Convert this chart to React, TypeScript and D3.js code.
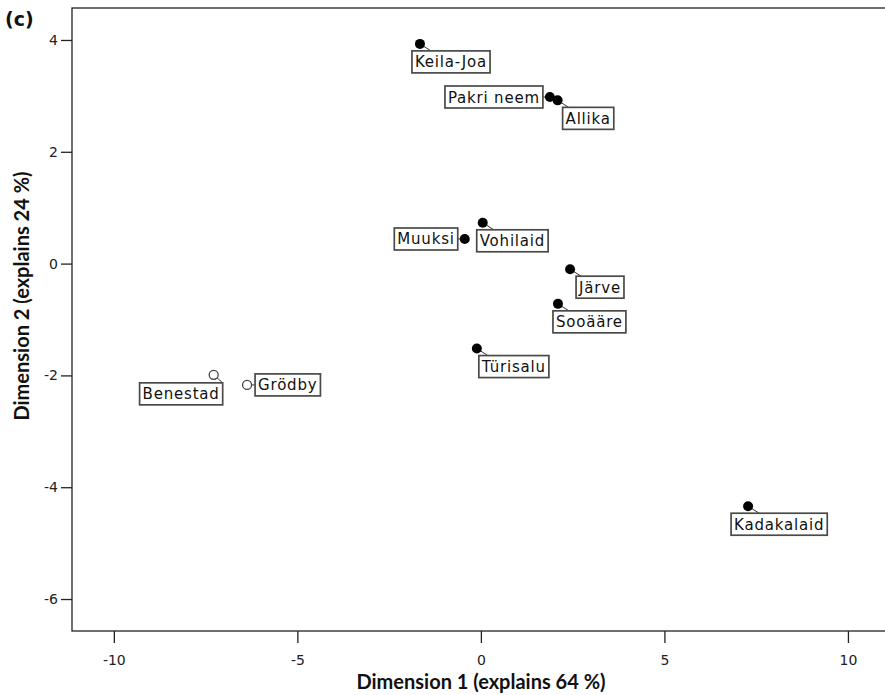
import React, { useRef, useEffect } from 'react';
import * as d3 from 'd3';

// MDS ordination of sites (panel c)
const sites = ['Keila-Joa', 'Pakri neem', 'Allika', 'Vohilaid', 'Muuksi', 'Järve', 'Sooääre', 'Türisalu', 'Benestad', 'Grödby', 'Kadakalaid'];
const dim1 = [-1.66, 1.88, 2.09, 0.05, -0.44, 2.43, 2.1, -0.11, -7.28, -6.37, 7.28];
const dim2 = [3.93, 2.98, 2.92, 0.73, 0.44, -0.1, -0.72, -1.52, -1.99, -2.17, -4.34];
const region = ['EE', 'EE', 'EE', 'EE', 'EE', 'EE', 'EE', 'EE', 'FI', 'FI', 'EE'];

const xTicks = [-10, -5, 0, 5, 10];
const yTicks = [-6, -4, -2, 0, 2, 4];

// label layout (where the box sits relative to its point)
const labelPlace = ['below', 'left', 'below', 'below', 'left', 'below', 'below', 'below', 'belowLeft', 'right', 'below'];
const labelShift = [-8, 0, 5, -6, 0, 6, -5, 2, 9, 0, -17];

const width = 885;
const height = 695;

const App = () => {
  const svgRef = useRef<SVGSVGElement>(null);

  useEffect(() => {
    const svg = d3.select(svgRef.current).html('');
    const left = 72, right = 885, top = 8, bottom = 631;

    const x = d3.scaleLinear().domain([-11.14, 11.01]).range([left, right]);
    const y = d3.scaleLinear().domain([-6.572, 4.572]).range([bottom, top]);

    // --- frame ---
    svg.append('rect')
      .attr('x', left).attr('y', top)
      .attr('width', right - left + 10).attr('height', bottom - top)
      .attr('fill', 'none').attr('stroke', '#222').attr('stroke-width', 1.3);

    // --- axes --- (plain hyphen for negatives, like the original)
    const fmt = (d: any) => String(d);

    const xAxis = svg.append('g').attr('transform', `translate(0,${bottom})`)
      .call(d3.axisBottom(x).tickValues(xTicks).tickSize(12).tickSizeOuter(0).tickFormat(fmt));
    xAxis.select('.domain').remove();
    xAxis.selectAll('line').attr('stroke', '#222').attr('stroke-width', 1.3);
    xAxis.selectAll('text')
      .attr('dy', 0).attr('y', 34)
      .style('font-family', 'DejaVu Sans').style('font-size', '14px').attr('fill', '#222');

    const yAxis = svg.append('g').attr('transform', `translate(${left},0)`)
      .call(d3.axisLeft(y).tickValues(yTicks).tickSize(11).tickSizeOuter(0).tickFormat(fmt));
    yAxis.select('.domain').remove();
    yAxis.selectAll('line').attr('stroke', '#222').attr('stroke-width', 1.3);
    yAxis.selectAll('text')
      .attr('x', -14)
      .style('font-family', 'DejaVu Sans').style('font-size', '14px').attr('fill', '#222');

    // --- titles ---
    svg.append('text')
      .attr('x', 481).attr('y', 689)
      .attr('text-anchor', 'middle')
      .style('font-family', 'Lato').style('font-weight', 'bold').style('font-size', '20px')
      .attr('fill', '#111')
      .text('Dimension 1 (explains 64 %)');

    svg.append('text')
      .attr('transform', 'translate(29,296) rotate(-90)')
      .attr('text-anchor', 'middle')
      .style('font-family', 'Lato').style('font-weight', 'bold').style('font-size', '20px')
      .attr('fill', '#111')
      .text('Dimension 2 (explains 24 %)');

    svg.append('text')
      .attr('x', 5).attr('y', 26)
      .style('font-family', 'DejaVu Sans').style('font-weight', 'bold').style('font-size', '19px')
      .attr('fill', '#111')
      .text('(c)');

    // --- labels ---
    const gLines = svg.append('g');
    const gLabels = svg.append('g');
    const gDots = svg.append('g');

    sites.forEach((name, i) => {
      const px = x(dim1[i]);
      const py = y(dim2[i]);

      const lab = gLabels.append('g');
      const box = lab.append('rect');
      const txt = lab.append('text')
        .style('font-family', 'DejaVu Sans').style('font-size', '15px')
        .style('letter-spacing', '0.8px')
        .attr('fill', '#111')
        .text(name);
      const tw = (txt.node() as SVGTextElement).getComputedTextLength();
      const bw = tw + 6;
      const bh = 22;

      let bx = 0, by = 0, ax = 0, ay = 0;
      const place = labelPlace[i];
      if (place === 'below') {
        bx = px + labelShift[i];
        by = py + 7;
        ax = Math.max(bx + 2, Math.min(px + 11, bx + bw - 2));
        ay = by;
      } else if (place === 'belowLeft') {
        bx = px + labelShift[i] - bw;
        by = py + 8;
        ax = bx + bw;
        ay = by;
      } else if (place === 'left') {
        bx = px - 7 - bw;
        by = py - bh / 2;
        ax = bx + bw;
        ay = py;
      } else {
        bx = px + 8;
        by = py - bh / 2;
        ax = bx;
        ay = py;
      }

      box.attr('x', bx).attr('y', by).attr('width', bw).attr('height', bh)
        .attr('fill', 'white').attr('stroke', '#4a4a4a').attr('stroke-width', 1.7);
      txt.attr('x', bx + 3).attr('y', by + 16.5);

      gLines.append('line')
        .attr('x1', px).attr('y1', py).attr('x2', ax).attr('y2', ay)
        .attr('stroke', '#333').attr('stroke-width', 1);

      if (region[i] === 'EE') {
        gDots.append('circle').attr('cx', px).attr('cy', py).attr('r', 5).attr('fill', '#000');
      } else {
        gDots.append('circle').attr('cx', px).attr('cy', py).attr('r', 4.5)
          .attr('fill', 'white').attr('stroke', '#444').attr('stroke-width', 1.3);
      }
    });
  }, []);

  return (
    <svg
      ref={svgRef}
      width={width}
      height={height}
      style={{ position: 'absolute', left: 0, top: 0, background: 'white' }}
    />
  );
};

export default App;
